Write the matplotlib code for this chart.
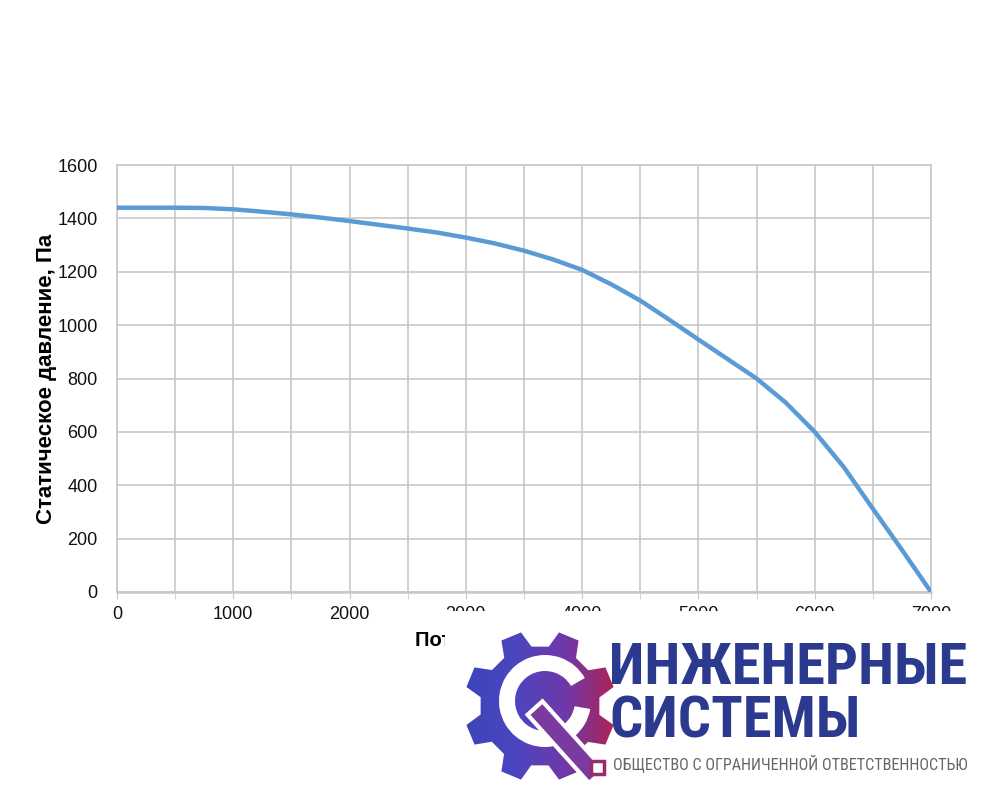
import numpy as np
import matplotlib
matplotlib.use("Agg")
from matplotlib import pyplot as plt
from matplotlib.patches import Polygon, Rectangle, Wedge
from matplotlib.colors import LinearSegmentedColormap
from matplotlib.transforms import Affine2D

# data
flow = [0, 250, 500, 750, 1000, 1250, 1500, 1750, 2000, 2250, 2500, 2750, 3000,
        3250, 3500, 3750, 4000, 4250, 4500, 4750, 5000, 5250, 5500, 5750, 6000,
        6250, 6500, 6750, 7000]
pressure = [1440, 1440, 1440, 1439, 1434, 1425, 1415, 1403, 1390, 1376, 1362, 1347, 1328,
            1306, 1279, 1246, 1207, 1153, 1092, 1020, 946, 873, 800, 710, 600,
            468, 312, 158, 0]
x_ticks = [0, 1000, 2000, 3000, 4000, 5000, 6000, 7000]
y_ticks = [0, 200, 400, 600, 800, 1000, 1200, 1400, 1600]

plt.rcParams['font.family'] = ['Liberation Sans', 'DejaVu Sans']
logo_font = ['Roboto Condensed', 'PT Sans Narrow', 'Fira Sans Condensed', 'DejaVu Sans']

fig = plt.figure(figsize=(9.88, 8.09), dpi=100)
ax = fig.add_axes([117/988, 1-592/809, (931-117)/988, (592-165)/809])

ax.plot(flow, pressure, color='#5b9bd5', lw=3.2, solid_capstyle='round', zorder=3)

ax.set_xlim(0, 7000)
ax.set_ylim(0, 1600)
ax.set_xticks(x_ticks)
ax.set_xticks(np.arange(0, 7001, 500), minor=True)
ax.set_yticks(y_ticks)
ax.grid(True, which='both', axis='x', color='#c8c8c8', lw=1.2)
ax.grid(True, which='major', axis='y', color='#c8c8c8', lw=1.2)
for s in ax.spines.values():
    s.set_color('#c8c8c8')
    s.set_linewidth(1.2)
ax.spines['bottom'].set_linewidth(1.8)
ax.tick_params(axis='y', which='major', labelsize=13, labelcolor='#111111',
               length=0, pad=14)
ax.tick_params(axis='x', which='both', labelsize=13, length=5, direction='out',
               colors='#c8c8c8', labelcolor='#111111', pad=5)
ax.set_ylabel('Статическое давление, Па', fontsize=16, fontweight='bold', labelpad=0)
ax.set_xlabel('Поток воздуха, м³/час', fontsize=14.5, fontweight='bold', labelpad=6)

# logo overlay
ov = fig.add_axes([0, 0, 1, 1], zorder=10)
ov.axis('off')
ov.patch.set_alpha(0)
ov.add_patch(Rectangle((445, 611), 600, 250, facecolor='white', edgecolor='none', zorder=1))

# gear with blue -> magenta gradient
cx, cy = 540, 706
n_teeth = 8
rad = np.tile([76, 76, 60, 60], n_teeth)
off = np.tile([-0.14, 0.14, 0.25, 0.54], n_teeth)
ptsa = np.repeat(np.arange(n_teeth) * 2*np.pi/n_teeth, 4) + off + np.pi/8
gear = Polygon(np.column_stack([cx + rad*np.cos(ptsa), cy + rad*np.sin(ptsa)]),
               closed=True, facecolor='none', edgecolor='none')
ov.add_patch(gear)
cmap = LinearSegmentedColormap.from_list('logo', ['#3b44b8', '#4a46c0', '#7038a8', '#b4204e'])
grad = np.tile(np.linspace(0, 1, 200), (200, 1))
im = ov.imshow(grad, cmap=cmap, extent=(cx-80, cx+80, cy+80, cy-80), aspect='auto',
               interpolation='bilinear', zorder=2)
im.set_clip_path(gear)
ov.set_xlim(0, 988)
ov.set_ylim(809, 0)

# white ring open towards upper right
ov.add_patch(Wedge((cx+5, cy-5), 46, 10, 330, width=16, facecolor='white',
                   edgecolor='none', zorder=3))
# wrench handle
tr = Affine2D().rotate_deg(-42).translate(cx-5, cy+2) + ov.transData
ov.add_patch(Rectangle((-10, 0), 20, 92, facecolor='#7a3aa0', edgecolor='white', lw=3,
                       transform=tr, zorder=4))
ov.add_patch(Rectangle((591, 761), 13, 13, facecolor='white', edgecolor='#9a2a70', lw=2.5,
                       zorder=5))

ov.text(609, 668, 'ИНЖЕНЕРНЫЕ', fontsize=42, fontweight='bold', color='#2b3a8f',
        family=logo_font, va='center', ha='left', zorder=6)
ov.text(609, 722, 'СИСТЕМЫ', fontsize=42, fontweight='bold', color='#2b3a8f',
        family=logo_font, va='center', ha='left', zorder=6)
ov.text(613, 764, 'ОБЩЕСТВО С ОГРАНИЧЕННОЙ ОТВЕТСТВЕННОСТЬЮ', fontsize=11.6,
        color='#666666', family=logo_font, va='center', ha='left', zorder=6)

fig.savefig('out.png', dpi=100)
